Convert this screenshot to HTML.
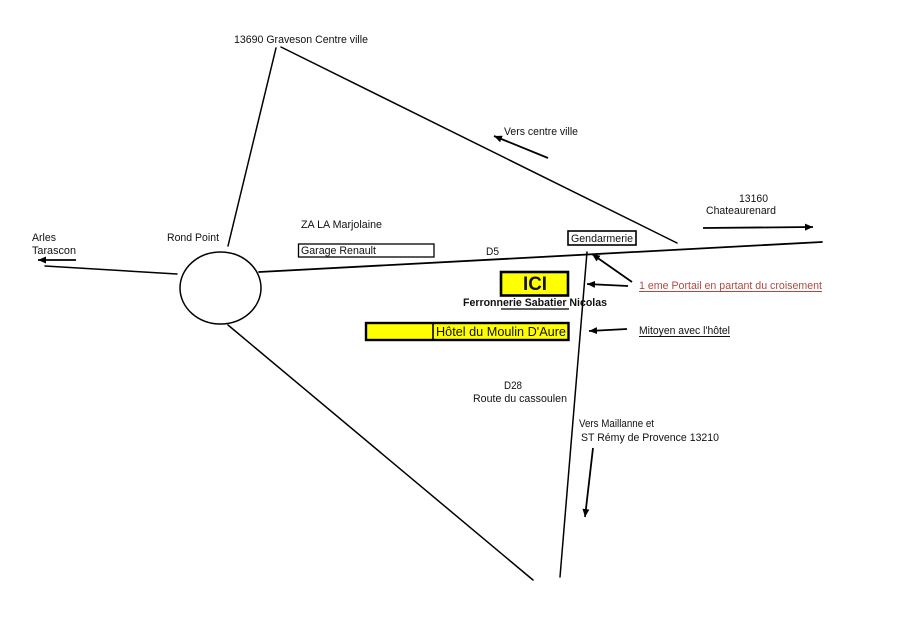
<!DOCTYPE html>
<html>
<head>
<meta charset="utf-8">
<style>
  html, body { margin:0; padding:0; background:#ffffff; }
  body { width:900px; height:636px; overflow:hidden; }
  svg { display:block; }
  text { font-family: "Liberation Sans", Arial, sans-serif; font-size:10.6px; fill:#111; }
</style>
</head>
<body>
<svg width="900" height="636" viewBox="0 0 900 636" xmlns="http://www.w3.org/2000/svg">
  <defs>
    <marker id="ah" markerUnits="userSpaceOnUse" markerWidth="10" markerHeight="8" refX="8" refY="3.5" orient="auto">
      <path d="M0,0 L8,3.5 L0,7 z" fill="#000"/>
    </marker>
  </defs>
  <rect width="900" height="636" fill="#fff"/>

  <!-- Roads -->
  <g stroke="#000" stroke-width="1.5" fill="none" stroke-linecap="round">
    <!-- roundabout -->
    <ellipse cx="220.5" cy="288" rx="40.5" ry="36"/>
    <!-- to Arles -->
    <line x1="45" y1="266" x2="177" y2="274"/>
    <!-- up to Graveson -->
    <line x1="228" y1="246" x2="276" y2="48"/>
    <!-- Graveson down to crossing -->
    <line x1="281" y1="47" x2="677" y2="243"/>
    <!-- D5 -->
    <line x1="259" y1="272" x2="822" y2="242" stroke-width="1.8"/>
    <!-- diagonal down -->
    <line x1="228" y1="325" x2="533" y2="580"/>
    <!-- D28 -->
    <line x1="587" y1="252" x2="560" y2="577"/>
  </g>

  <!-- Arrows -->
  <g stroke="#000" stroke-width="1.8" fill="none" marker-end="url(#ah)">
    <line x1="76" y1="260" x2="38" y2="260"/>
    <line x1="548" y1="158" x2="494" y2="136"/>
    <line x1="703" y1="228" x2="813" y2="227"/>
    <line x1="632" y1="282" x2="592" y2="254"/>
    <line x1="628" y1="286" x2="587" y2="284"/>
    <line x1="627" y1="329" x2="589" y2="331"/>
    <line x1="593" y1="448" x2="585" y2="517"/>
  </g>

  <!-- Boxes -->
  <rect x="298.5" y="244" width="135.5" height="13" fill="#fff" stroke="#000" stroke-width="1.3"/>
  <rect x="568" y="231" width="68" height="14" fill="#fff" stroke="#000" stroke-width="1.6"/>
  <rect x="501" y="272" width="67" height="23.5" fill="#ffff00" stroke="#000" stroke-width="2.6"/>
  <rect x="366" y="323" width="202.5" height="17" fill="#ffff00" stroke="#000" stroke-width="2.4"/>
  <line x1="433" y1="323" x2="433" y2="340" stroke="#000" stroke-width="1.6"/>

  <!-- Labels -->
  <text x="234" y="43" textLength="134" lengthAdjust="spacingAndGlyphs">13690 Graveson Centre ville</text>
  <text x="504" y="135" textLength="74" lengthAdjust="spacingAndGlyphs">Vers centre ville</text>
  <text x="739" y="202" textLength="29" lengthAdjust="spacingAndGlyphs">13160</text>
  <text x="706" y="214" textLength="70" lengthAdjust="spacingAndGlyphs">Chateaurenard</text>
  <text x="32" y="241" textLength="24" lengthAdjust="spacingAndGlyphs">Arles</text>
  <text x="32" y="254" textLength="44" lengthAdjust="spacingAndGlyphs">Tarascon</text>
  <text x="167" y="241" textLength="52" lengthAdjust="spacingAndGlyphs">Rond Point</text>
  <text x="301" y="228" textLength="81" lengthAdjust="spacingAndGlyphs">ZA LA Marjolaine</text>
  <text x="301" y="254" textLength="75" lengthAdjust="spacingAndGlyphs">Garage Renault</text>
  <text x="486" y="255" textLength="13" lengthAdjust="spacingAndGlyphs">D5</text>
  <text x="571" y="242" textLength="62" lengthAdjust="spacingAndGlyphs">Gendarmerie</text>
  <text x="523" y="290" style="font-size:19px;font-weight:bold" textLength="24" lengthAdjust="spacingAndGlyphs">ICI</text>
  <text x="463" y="306" style="font-weight:bold" textLength="144" lengthAdjust="spacingAndGlyphs">Ferronnerie Sabatier Nicolas</text>
  <line x1="501" y1="309" x2="569" y2="309" stroke="#000" stroke-width="1.3"/>
  <text x="436" y="336" style="font-size:12.7px" textLength="130" lengthAdjust="spacingAndGlyphs">Hôtel du Moulin D'Aure</text>

  <text x="639" y="289" style="fill:#b04a40" textLength="183" lengthAdjust="spacingAndGlyphs">1 eme Portail en partant du croisement</text>
  <line x1="639" y1="291.5" x2="822" y2="291.5" stroke="#b04a40" stroke-width="1"/>
  <text x="639" y="334" textLength="91" lengthAdjust="spacingAndGlyphs">Mitoyen avec l'hôtel</text>
  <line x1="639" y1="336.5" x2="730" y2="336.5" stroke="#111" stroke-width="1"/>

  <text x="504" y="389" textLength="18" lengthAdjust="spacingAndGlyphs">D28</text>
  <text x="473" y="402" textLength="94" lengthAdjust="spacingAndGlyphs">Route du cassoulen</text>
  <text x="579" y="427" textLength="75" lengthAdjust="spacingAndGlyphs">Vers Maillanne et</text>
  <text x="581" y="441" textLength="138" lengthAdjust="spacingAndGlyphs">ST Rémy de Provence 13210</text>
</svg>
</body>
</html>
